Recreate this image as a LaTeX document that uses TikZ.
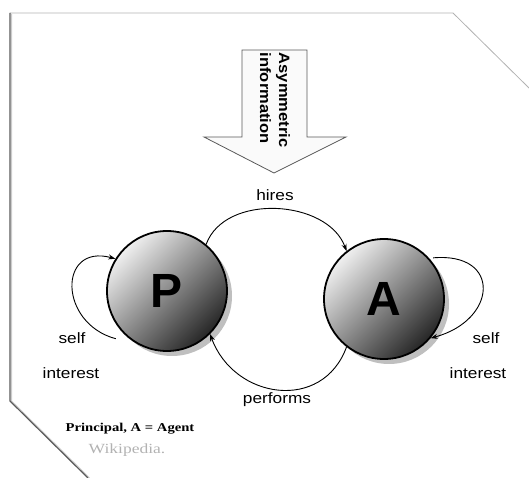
\documentclass[tikz,border=0pt]{standalone}
\usepackage{fontspec}
\setmainfont{Liberation Serif}
\setsansfont{Liberation Sans}
\usetikzlibrary{arrows.meta,calc}
\newcommand{\xs}[2]{\scalebox{#1}[1]{#2}}
\begin{document}
\begin{tikzpicture}[x=1pt,y=1pt,
  lbl/.style={font=\sffamily\fontsize{15}{18}\selectfont, inner sep=0pt},
  ball/.style={circle, draw=black, line width=1.8pt, minimum size=120pt, inner sep=0pt,
    shading=axis, top color=gray!12, bottom color=black!85, shading angle=45,
    font=\sffamily\bfseries\fontsize{48}{48}\selectfont},
  shadowball/.style={circle, fill=gray!50, minimum size=120pt, inner sep=0pt},
  conn/.style={line width=0.9pt, -{Stealth[length=7pt,width=5pt]}},
  ]
\useasboundingbox (0,0) rectangle (529,478);
% page border
\draw[gray!40, line width=1pt] (11.5,464) -- (11.5,77) -- (89.5,0);
\draw[gray!60, line width=0.8pt] (10,465) -- (453,465) -- (529,390);
\draw[black!65, line width=1.2pt] (10,465) -- (10,77) -- (88,0);
% big arrow
\draw[draw=gray!70!black, fill=gray!4, line width=0.8pt]
  (242,428) -- (307,428) -- (307,341) -- (346,341) -- (274,305) -- (204,341) -- (242,341) -- cycle;
\node[rotate=-90, align=left, inner sep=0pt,
  font=\sffamily\bfseries\fontsize{15}{19}\selectfont] (info) at (275,378)
  {\xs{1.1}{Asymmetric}\\\xs{1.1}{information}};
% shadows and balls
\node[shadowball] (Ps) at (172,182) {};
\node[shadowball] (As) at (389,174) {};
\node[ball] (P) at (167,187) {P};
\node[ball] (A) at (384,179) {A};
% hires
\node[lbl] (hires) at (275,283) {\xs{1.15}{hires}};
\draw[conn] (P.50) to[out=70,in=110] (A.128);
% performs
\node[lbl] (performs) at (277,78) {\xs{1.15}{performs}};
\draw[conn] (A.232) to[out=250,in=290,looseness=1.3] (P.-45);
% self loops
\coordinate (Pl) at ($(P)+(223:70)$);
\draw[conn] (Pl) to[out=165,in=165,looseness=1.9] (P.148);
\coordinate (Al) at ($(A)+(40:64)$);
\draw[conn] (Al) to[out=5,in=15,looseness=2.2] (A.-40);
\node[lbl] (selfP) at (72,140) {\xs{1.15}{self}};
\node[lbl] (intP) at (71,105) {\xs{1.15}{interest}};
\node[lbl] (selfA) at (486,140) {\xs{1.15}{self}};
\node[lbl] (intA) at (478,105) {\xs{1.15}{interest}};
% caption
\node[inner sep=0pt, font=\bfseries\fontsize{12}{14}\selectfont] (cap) at (130,49)
  {\xs{1.22}{Principal, A = Agent}};
\node[inner sep=0pt, text=gray!60, font=\fontsize{14}{16}\selectfont] (wiki) at (127,28)
  {\xs{1.25}{Wikipedia.}};
\end{tikzpicture}
\end{document}
